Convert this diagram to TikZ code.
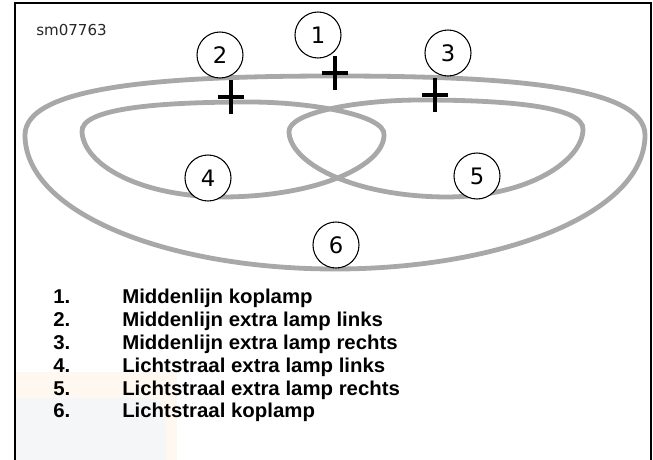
\documentclass[tikz,border=0pt]{standalone}
\usepackage{fontspec}
\setmainfont{DejaVu Sans}
\newfontfamily\legendfont[FakeStretch=1.02]{Liberation Sans}
\newfontfamily\labelfont{DejaVu Sans}
\definecolor{curvegray}{RGB}{168,168,168}
\definecolor{wmpeach}{RGB}{255,248,241}
\definecolor{wmgray}{RGB}{245,246,248}
\tikzset{
  beam/.style={draw=curvegray, line width=3.6pt},
  marker/.style={draw=black, line width=3pt},
  callout/.style={circle, draw=black, line width=0.8pt, fill=white, minimum size=34.5pt, inner sep=0pt, font=\labelfont\fontsize{17}{17}\selectfont},
  legnum/.style={anchor=base west, inner sep=0pt, font=\legendfont\bfseries\fontsize{15}{15}\selectfont},
  legtext/.style={anchor=base west, inner sep=0pt, font=\legendfont\bfseries\fontsize{15}{15}\selectfont},
  frameline/.style={draw=black, line width=1.5pt}
}
\begin{document}
\begin{tikzpicture}[x=0.75pt, y=-0.75pt]
\useasboundingbox (0,0) rectangle (653,460);
\fill[white] (0,0) rectangle (653,460);
% faint watermark
\fill[wmpeach] (15,372) rectangle (177,460);
\fill[wmgray] (15,398) -- (150,398) .. controls (162,398) and (166,410) .. (166,430) -- (166,460) -- (15,460) -- cycle;
% frame
\draw[frameline] (15,460) -- (15,3) -- (651,3) -- (651,460);
% code
\node[anchor=base west, inner sep=0pt, font=\labelfont\fontsize{11.3}{11.3}\selectfont, text=black!85] (code) at (36,36) {sm07763};
% outer beam (6)
\draw[beam] (25,135) .. controls (25,85) and (170,76) .. (335,76)
  .. controls (500,76) and (645,85) .. (645,135)
  .. controls (645,214) and (500,269) .. (335,269)
  .. controls (170,269) and (25,214) .. (25,135) -- cycle;
% left lobe (4)
\draw[beam] (82,132) .. controls (80,108) and (160,102) .. (250,102)
  .. controls (310,102) and (386,115) .. (384,135)
  .. controls (384,165) and (320,196) .. (225,197)
  .. controls (140,197) and (84,165) .. (82,132) -- cycle;
% right lobe (5)
\draw[beam] (583,130) .. controls (585,106) and (505,100) .. (420,100)
  .. controls (360,100) and (288,112) .. (289,132)
  .. controls (290,162) and (350,196) .. (445,197)
  .. controls (530,197) and (582,160) .. (583,130) -- cycle;
% callouts
\node[callout] (c1) at (318,35) {1};
\node[callout] (c2) at (220,55) {2};
\node[callout] (c3) at (448,53) {3};
\node[callout] (c4) at (208,178) {4};
\node[callout] (c5) at (477,176) {5};
\node[callout] (c6) at (336,245) {6};
% centre-line markers
\draw[marker] (322,73) -- (348,73) (335,56) -- (335,90);
\draw[marker] (218,97) -- (244,97) (231,80) -- (231,114);
\draw[marker] (422,95) -- (448,95) (435,78) -- (435,112);
% legend
\node[legnum] (n1) at (53,303.8) {1.};
\node[legtext] (t1) at (122,303.8) {Middenlijn koplamp};
\node[legnum] (n2) at (53,326.6) {2.};
\node[legtext] (t2) at (122,326.6) {Middenlijn extra lamp links};
\node[legnum] (n3) at (53,349.4) {3.};
\node[legtext] (t3) at (122,349.4) {Middenlijn extra lamp rechts};
\node[legnum] (n4) at (53,372.2) {4.};
\node[legtext] (t4) at (122,372.2) {Lichtstraal extra lamp links};
\node[legnum] (n5) at (53,395.0) {5.};
\node[legtext] (t5) at (122,395.0) {Lichtstraal extra lamp rechts};
\node[legnum] (n6) at (53,417.8) {6.};
\node[legtext] (t6) at (122,417.8) {Lichtstraal koplamp};
\end{tikzpicture}
\end{document}
